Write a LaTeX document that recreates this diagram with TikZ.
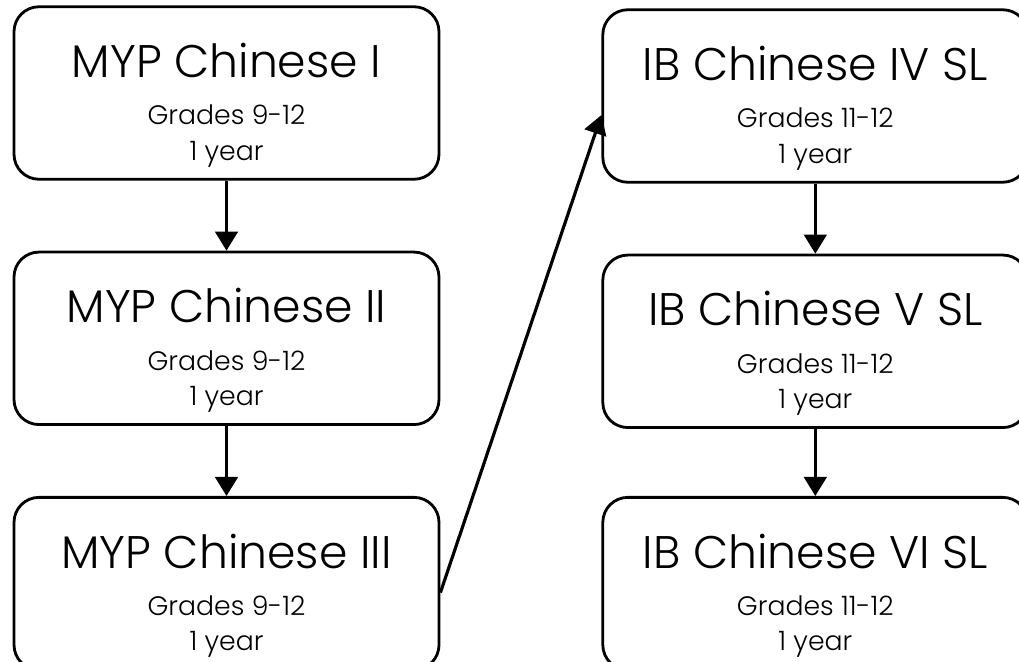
\documentclass[tikz,border=0pt]{standalone}
\usepackage{fontspec}
\setmainfont{Poppins}[UprightFont={* Light}]
\usetikzlibrary{positioning}
\usetikzlibrary{arrows.meta}

\tikzset{
  course/.style={draw, line width=1.6pt, rounded corners=0.5cm, minimum width=8.5cm, minimum height=3.45cm, align=center, inner sep=0pt, text height=2.68cm, text depth=0cm, font=\fontsize{15.2}{20}\selectfont},
  next/.style={-{Triangle[width=0.45cm,length=0.38cm]}, line width=1.8pt}
}
\newcommand{\coursetext}[2]{{\fontsize{26}{30}\selectfont #1}\\[7pt]Grades #2\\1 year}

\begin{document}
\begin{tikzpicture}[node distance=1.4cm and 3.22cm]

\useasboundingbox (0,0) rectangle (20.38,-13.22);

\node[course] (mypone) at (4.53,-1.86) {\coursetext{MYP Chinese I}{9-12}};
\node[course, below=of mypone] (myptwo) {\coursetext{MYP Chinese II}{9-12}};
\node[course, below=of myptwo] (mypthree) {\coursetext{MYP Chinese III}{9-12}};

\node[course, right=of mypone, yshift=-0.06cm] (ibfour) {\coursetext{IB Chinese IV SL}{11-12}};
\node[course, below=of ibfour] (ibfive) {\coursetext{IB Chinese V SL}{11-12}};
\node[course, right=of mypthree] (ibsix) {\coursetext{IB Chinese VI SL}{11-12}};

\draw[next] (mypone) -- (myptwo);
\draw[next] (myptwo) -- (mypthree);
\draw[next] ([yshift=-0.18cm]mypthree.east) -- ([yshift=-0.38cm]ibfour.west);
\draw[next] (ibfour) -- (ibfive);
\draw[next] (ibfive) -- (ibsix);

\end{tikzpicture}
\end{document}
